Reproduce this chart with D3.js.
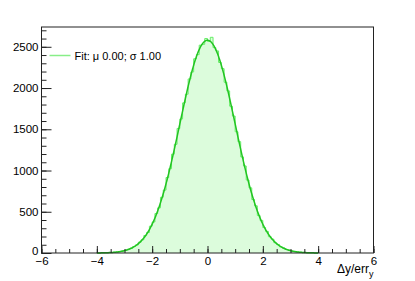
<!DOCTYPE html>
<html>
<head>
<meta charset="utf-8">
<script src="https://cdn.jsdelivr.net/npm/d3@7"></script>
<style>
  body { margin: 0; background: #fff; }
  svg { display: block; font-family: "Liberation Sans", Arial, sans-serif; }
</style>
</head>
<body>
<div id="chart"></div>
<script>
// histogram: 0.1 wide bins from -4 to 4, counts
var binStart = -4.0;
var binWidth = 0.1;
var counts = [
  1, 2, 2, 4, 5, 6, 10, 12, 18, 26,
  32, 46, 57, 79, 98, 131, 160, 212, 248, 325,
  376, 478, 548, 675, 762, 915, 1022, 1198, 1318, 1510,
  1625, 1820, 1925, 2110, 2195, 2355, 2405, 2520, 2530, 2600,
  2565, 2615, 2490, 2450, 2310, 2235, 2070, 1965, 1780, 1660,
  1470, 1350, 1165, 1055, 885, 790, 648, 572, 455, 395,
  308, 262, 198, 168, 124, 104, 75, 61, 43, 34,
  24, 19, 12, 9, 7, 4, 3, 2, 1, 1
];

// gaussian fit parameters
var fitAmp = 2580;
var fitMu = 0.00;
var fitSigma = 1.00;
var fitRange = [-4, 4];

var xTicks = [-6, -4, -2, 0, 2, 4, 6];
var yTicks = [0, 500, 1000, 1500, 2000, 2500];
var legendLabel = "Fit: \u03bc " + fitMu.toFixed(2) + "; \u03c3 " + fitSigma.toFixed(2);

var W = 415, H = 281;
var margin = {top: 27, right: 41.5, bottom: 28, left: 41.5},
    w = W - margin.left - margin.right,
    h = H - margin.top - margin.bottom;

var x = d3.scaleLinear().domain([-6, 6]).range([0, w]);
var y = d3.scaleLinear().domain([0, 2740]).range([h, 0]);

var svg = d3.select("#chart").append("svg")
    .attr("width", W)
    .attr("height", H)
  .append("g")
    .attr("transform", "translate(" + margin.left + "," + margin.top + ")");

// histogram as steps
var pts = [[binStart, 0]];
counts.forEach(function(c, i) {
  var lo = binStart + i * binWidth;
  pts.push([lo, c]);
  pts.push([lo + binWidth, c]);
});
pts.push([binStart + counts.length * binWidth, 0]);

svg.append("path")
    .datum(pts)
    .attr("fill", "#dcfcdc")
    .attr("d", d3.area()
      .x(function(d) { return x(d[0]); })
      .y0(y(0))
      .y1(function(d) { return y(d[1]); }));

svg.append("path")
    .datum(pts)
    .attr("fill", "none")
    .attr("stroke", "#66ee66")
    .attr("stroke-width", 1)
    .attr("d", d3.line()
      .x(function(d) { return x(d[0]); })
      .y(function(d) { return y(d[1]); }));

// fit curve
var fitPts = d3.range(fitRange[0], fitRange[1] + 0.001, 0.02).map(function(v) {
  var z = (v - fitMu) / fitSigma;
  return [v, fitAmp * Math.exp(-0.5 * z * z)];
});
svg.append("path")
    .datum(fitPts)
    .attr("fill", "none")
    .attr("stroke", "#22c422")
    .attr("stroke-width", 1.5)
    .attr("d", d3.line()
      .x(function(d) { return x(d[0]); })
      .y(function(d) { return y(d[1]); }));

// axes (ticks pointing inwards)
function styleAxis(g) {
  g.select(".domain").remove();
  g.selectAll("line").attr("stroke", "#222");
  g.selectAll("text").attr("font-size", "11.5px").attr("fill", "#000");
}

svg.append("g")
    .attr("transform", "translate(0," + h + ")")
    .call(d3.axisBottom(x).tickValues(d3.range(-6, 6.01, 0.5)).tickSize(-4).tickFormat(""))
    .call(styleAxis);
svg.append("g")
    .attr("transform", "translate(0," + h + ")")
    .call(d3.axisBottom(x).tickValues(xTicks).tickSize(-7).tickFormat(d3.format("d")))
    .call(styleAxis)
    .selectAll("text").attr("dy", "0.71em").attr("y", 4);

svg.append("g")
    .call(d3.axisLeft(y).tickValues(d3.range(0, 2701, 100)).tickSize(-5).tickFormat(""))
    .call(styleAxis);
svg.append("g")
    .call(d3.axisLeft(y).tickValues(yTicks).tickSize(-10).tickFormat(d3.format("d")))
    .call(styleAxis)
    .selectAll("text").attr("x", -3).attr("dy", function(d) { return d === 0 ? "0.15em" : "0.32em"; });

// frame
svg.append("rect")
    .attr("width", w)
    .attr("height", h)
    .attr("fill", "none")
    .attr("stroke", "#222")
    .attr("stroke-width", 1);

// axis title
var title = svg.append("text")
    .attr("x", w)
    .attr("y", h + 20)
    .attr("text-anchor", "end")
    .attr("font-size", "12px");
title.append("tspan").text("\u0394y/err");
title.append("tspan").attr("font-size", "9px").attr("dy", 4).text("y");

// legend
var leg = svg.append("g").attr("transform", "translate(8,28.5)");
leg.append("line")
    .attr("x1", 0).attr("x2", 21)
    .attr("stroke", "#88ee88")
    .attr("stroke-width", 1.5);
leg.append("text")
    .attr("x", 25)
    .attr("y", 4)
    .attr("font-size", "11px")
    .text(legendLabel);
</script>
</body>
</html>
